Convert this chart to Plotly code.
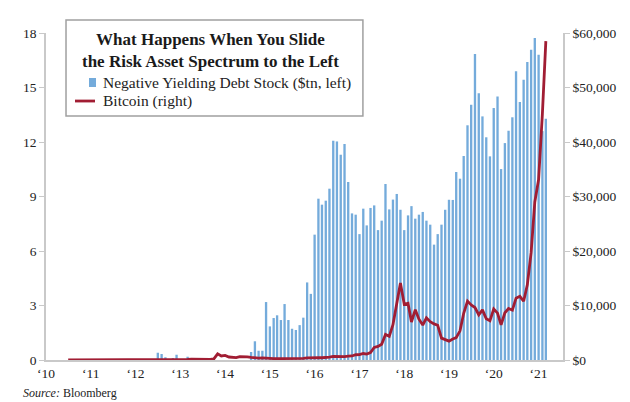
import plotly.graph_objects as go
import pandas as pd

# ---------------- data ----------------
# Negative yielding debt stock ($tn), monthly, starting Jul 2012
debt_start = "2012-07-01"
debt_values = [
    0.40, 0.33, 0.15, 0.0, 0.09, 0.29,                      # 2012 Jul-Dec
    0.0, 0.0, 0.18, 0.0, 0.0, 0.0, 0.0, 0.0, 0.0, 0.0, 0.0, 0.0,  # 2013
    0.0, 0.0, 0.0, 0.0, 0.0, 0.0, 0.0, 0.44, 1.03, 0.51, 0.51, 3.19,  # 2014
    1.85, 2.31, 2.46, 2.20, 3.08, 2.20, 1.72, 1.65, 1.92, 2.33, 4.27, 3.64,  # 2015
    6.90, 8.88, 8.55, 8.77, 9.43, 12.07, 12.03, 11.30, 11.89, 9.80, 8.07, 8.00,  # 2016
    6.93, 8.33, 7.41, 8.37, 8.51, 7.15, 7.67, 9.69, 8.29, 8.83, 9.14, 8.27,  # 2017
    7.15, 7.96, 8.47, 7.78, 8.00, 8.15, 7.67, 7.45, 6.35, 6.93, 7.45, 8.27,  # 2018
    8.82, 8.81, 10.35, 9.98, 11.23, 12.92, 14.05, 16.84, 14.69, 13.41, 12.26, 11.21,  # 2019
    13.87, 14.51, 10.51, 11.94, 12.62, 13.36, 15.89, 14.20, 15.43, 16.40, 17.08, 17.72,  # 2020
    16.80, 12.60, 13.28,                                      # 2021 Jan-Mar
]

# Bitcoin price ($), monthly, starting Jul 2010
btc_start = "2010-07-01"
btc_values = [
    0.07, 0.06, 0.06, 0.19, 0.21, 0.30,
    0.52, 0.86, 0.78, 3.5, 8.7, 16.1, 13.4, 8.2, 5.1, 3.2, 3.0, 4.7,
    5.5, 4.9, 4.9, 5.0, 5.2, 6.7, 9.3, 10.2, 12.4, 11.2, 12.6, 13.5,
    20.4, 33.4, 93, 139, 129, 97, 106, 135, 133, 198, 1130, 732,
    830, 550, 457, 448, 628, 640, 586, 478, 387, 338, 378, 320,
    217, 254, 244, 236, 230, 263, 284, 230, 236, 314, 377, 430,
    368, 437, 416, 448, 531, 673, 624, 575, 609, 698, 742, 964,
    970, 1190, 1080, 1350, 2300, 2480, 2875, 4700, 4340, 6470, 10230, 14150,
    10220, 10400, 6970, 9240, 7490, 6400, 7730, 7030, 6630, 6370, 4020, 3740,
    3460, 3850, 4100, 5350, 8570, 10800, 10090, 9630, 8290, 9200, 7570, 7190,
    9350, 8600, 6440, 8660, 9450, 9140, 11350, 11680, 10780, 13800, 19700, 29000,
    33100, 45200, 58500,
]

year_ticks = [f"{y}-01-01" for y in range(2010, 2022)]
year_labels = ["\u2018" + str(y)[2:] for y in range(2010, 2022)]

left_ticks = [0, 3, 6, 9, 12, 15, 18]
right_ticks = [0, 10000, 20000, 30000, 40000, 50000, 60000]
right_labels = ["$0", "$10,000", "$20,000", "$30,000", "$40,000", "$50,000", "$60,000"]

title_text = "What Happens When You Slide<br>the Risk Asset Spectrum to the Left"
debt_name = "Negative Yielding Debt Stock ($tn, left)"
btc_name = "Bitcoin (right)"

# ---------------- figure ----------------
FONT = "Liberation Serif, Times New Roman, serif"
BAR_COLOR = "#74abdb"
LINE_COLOR = "#a11d33"
AX_COLOR = "#c9c9c9"
TXT = "#222222"

debt_dates = pd.date_range(debt_start, periods=len(debt_values), freq="MS")
btc_dates = pd.date_range(btc_start, periods=len(btc_values), freq="MS")

fig = go.Figure()
fig.add_trace(go.Bar(x=debt_dates, y=debt_values, name=debt_name,
                     marker=dict(color=BAR_COLOR, line=dict(width=0)),
                     yaxis="y"))
fig.add_trace(go.Scatter(x=btc_dates, y=btc_values, name=btc_name, mode="lines",
                         line=dict(color=LINE_COLOR, width=2.8),
                         yaxis="y2"))

fig.update_layout(
    width=630, height=402,
    margin=dict(l=38, r=75, t=25, b=50, autoexpand=False),
    paper_bgcolor="white", plot_bgcolor="white",
    showlegend=False,
    bargap=0.32,
    font=dict(family=FONT, size=13, color=TXT),
    xaxis=dict(
        type="date",
        range=["2010-01-01", "2021-07-19"],
        tickvals=year_ticks, ticktext=year_labels,
        showgrid=False, zeroline=False,
        showline=True, linecolor=AX_COLOR, linewidth=1.5,
        ticks="", tickfont=dict(size=13.5, color=TXT),
    ),
    yaxis=dict(
        range=[0, 18], tickvals=left_ticks,
        showgrid=False, zeroline=False,
        showline=True, linecolor=AX_COLOR, linewidth=1.5,
        ticks="outside", ticklen=5, tickcolor=AX_COLOR, tickwidth=1.2,
        tickfont=dict(size=13.5, color=TXT),
    ),
    yaxis2=dict(
        range=[0, 60000], tickvals=right_ticks, ticktext=right_labels,
        overlaying="y", side="right",
        showgrid=False, zeroline=False,
        showline=True, linecolor=AX_COLOR, linewidth=1.5,
        ticks="outside", ticklen=5, tickcolor=AX_COLOR, tickwidth=1.2,
        tickfont=dict(size=13.5, color=TXT),
    ),
)

# title / legend box (drawn manually)
fig.add_shape(type="rect", xref="paper", yref="paper",
              x0=0.0387, x1=0.613, y0=0.746, y1=1.0398,
              line=dict(color="#a0a0a0", width=1.5), fillcolor="white", layer="above")
fig.add_annotation(xref="paper", yref="paper", x=0.318, y=0.948,
                   text="<b>" + title_text + "</b>", showarrow=False,
                   xanchor="center", yanchor="middle", align="center",
                   font=dict(family=FONT, size=17, color="#1a1a1a"))
fig.add_shape(type="rect", xref="paper", yref="paper",
              x0=0.0832, x1=0.0967, y0=0.8349, y1=0.8624,
              line=dict(width=0), fillcolor=BAR_COLOR, layer="above")
fig.add_shape(type="line", xref="paper", yref="paper",
              x0=0.0561, x1=0.0948, y0=0.792, y1=0.792,
              line=dict(color=LINE_COLOR, width=2.8), layer="above")
fig.add_annotation(xref="paper", yref="paper", x=0.1064, y=0.8471,
                   text=debt_name, showarrow=False, xanchor="left", yanchor="middle",
                   font=dict(family=FONT, size=15.5, color=TXT))
fig.add_annotation(xref="paper", yref="paper", x=0.1064, y=0.792,
                   text=btc_name, showarrow=False, xanchor="left", yanchor="middle",
                   font=dict(family=FONT, size=15.5, color=TXT))

# source note
fig.add_annotation(xref="paper", yref="paper", x=-0.049, y=-0.101,
                   text="<i>Source:</i> Bloomberg", showarrow=False,
                   xanchor="left", yanchor="middle",
                   font=dict(family=FONT, size=12, color=TXT))

fig.write_html("out.html")
